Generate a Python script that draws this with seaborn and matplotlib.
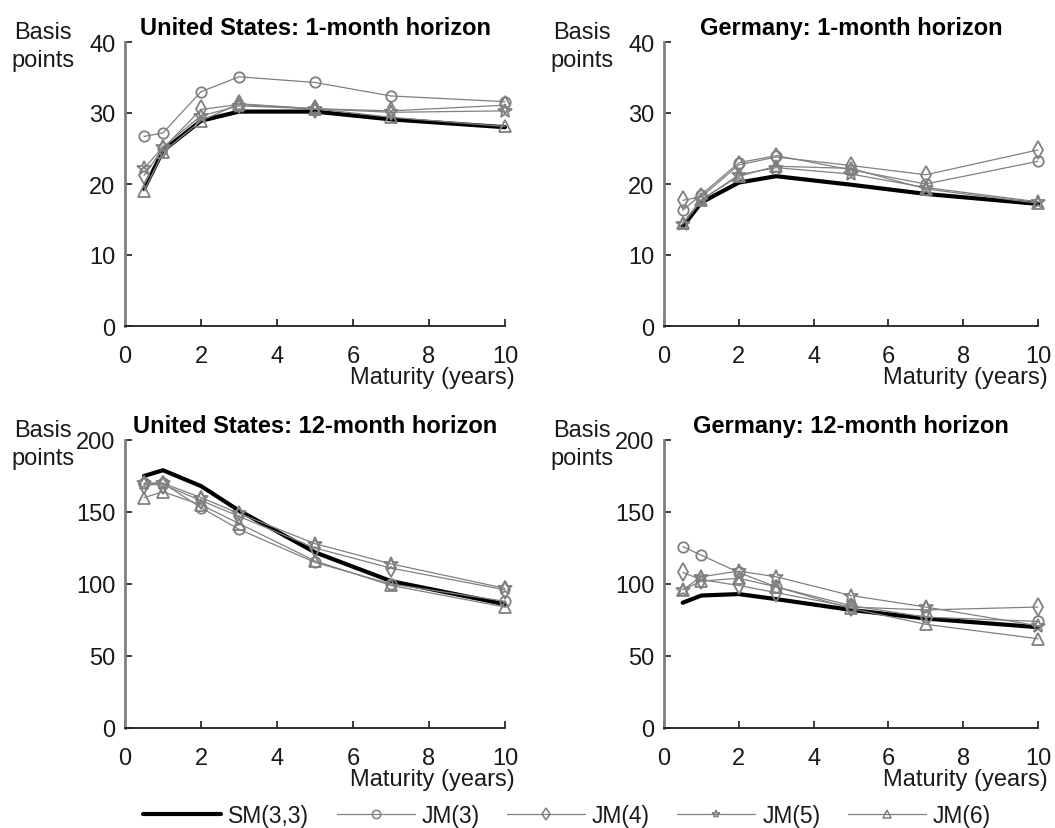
import matplotlib
matplotlib.use("Agg")
import matplotlib.pyplot as plt
import seaborn as sns
import pandas as pd

maturities = [0.5, 1, 2, 3, 5, 7, 10]
models = ["SM(3,3)", "JM(3)", "JM(4)", "JM(5)", "JM(6)"]

us_1m = {
    "SM(3,3)": [19.3, 24.7, 28.9, 30.2, 30.2, 29.1, 28.0],
    "JM(3)":   [26.7, 27.2, 33.0, 35.1, 34.3, 32.4, 31.6],
    "JM(4)":   [21.2, 25.0, 30.5, 31.2, 30.6, 30.3, 31.1],
    "JM(5)":   [22.2, 25.2, 29.6, 31.0, 30.6, 30.1, 30.3],
    "JM(6)":   [19.0, 24.5, 28.9, 31.3, 30.6, 29.4, 28.1],
}
de_1m = {
    "SM(3,3)": [14.0, 17.4, 20.2, 21.1, 19.9, 18.6, 17.2],
    "JM(3)":   [16.3, 18.5, 23.0, 24.0, 22.0, 20.0, 23.2],
    "JM(4)":   [17.7, 18.2, 22.7, 23.8, 22.6, 21.3, 24.8],
    "JM(5)":   [14.3, 17.7, 21.3, 22.3, 21.4, 19.5, 17.5],
    "JM(6)":   [14.5, 17.8, 21.1, 22.5, 22.2, 19.3, 17.3],
}
us_12m = {
    "SM(3,3)": [175, 179, 168, 151, 122, 102, 86],
    "JM(3)":   [170, 170, 153, 138, 115, 100, 88],
    "JM(4)":   [169, 169, 158, 147, 125, 111, 96],
    "JM(5)":   [170, 170, 160, 149, 128, 114, 97],
    "JM(6)":   [160, 164, 155, 142, 116, 99, 84],
}
de_12m = {
    "SM(3,3)": [87, 92, 93, 89.5, 82, 76, 70],
    "JM(3)":   [126, 120, 108, 98, 85, 77, 74],
    "JM(4)":   [108, 103, 99, 94, 84, 82, 84],
    "JM(5)":   [96, 105, 109, 105, 92, 84, 71],
    "JM(6)":   [96, 102, 104, 98, 83, 72, 62],
}

titles = ["United States: 1-month horizon", "Germany: 1-month horizon",
          "United States: 12-month horizon", "Germany: 12-month horizon"]
panels = [us_1m, de_1m, us_12m, de_12m]
ymaxes = [40, 40, 200, 200]
ysteps = [10, 10, 50, 50]

sns.set_theme(style="white")
plt.rcParams["font.family"] = ["Liberation Sans", "DejaVu Sans"]

fig = plt.figure(figsize=(10.55, 8.29), dpi=100)
W, H = 1055, 829
boxes = [(125, 43, 380, 284), (664, 43, 374, 284),
         (125, 441, 380, 288), (664, 441, 374, 288)]

gray = "#808080"
txt = "#1a1a1a"
styles = {
    "SM(3,3)": dict(color="black", lw=3.0, marker=None),
    "JM(3)": dict(color=gray, lw=0.9, marker="o", ms=7.5),
    "JM(4)": dict(color=gray, lw=0.9, marker="d", ms=9),
    "JM(5)": dict(color=gray, lw=0.9, marker="*", ms=10),
    "JM(6)": dict(color=gray, lw=0.9, marker="^", ms=8.5),
}

handles = []
for i, (data, title, ymax, ystep, box) in enumerate(zip(panels, titles, ymaxes, ysteps, boxes)):
    x0, y0, w, h = box
    ax = fig.add_axes([x0 / W, 1 - (y0 + h) / H, w / W, h / H])
    for m in models:
        st = styles[m]
        df = pd.DataFrame({"Maturity": maturities, "bp": data[m]})
        kw = dict(color=st["color"], lw=st["lw"], label=m, ax=ax, sort=False,
                  zorder=2 if m == "SM(3,3)" else 3, clip_on=False)
        if st["marker"] is not None:
            kw.update(marker=st["marker"], markersize=st["ms"],
                      markerfacecolor="none", markeredgecolor=gray, markeredgewidth=1.3)
        sns.lineplot(data=df, x="Maturity", y="bp", **kw)
    ax.set_xlim(0, 10)
    ax.set_ylim(0, ymax)
    ax.set_xticks(range(0, 11, 2))
    ax.set_yticks(range(0, ymax + 1, ystep))
    ax.set_xlabel("")
    ax.set_ylabel("")
    for s in ["top", "right"]:
        ax.spines[s].set_visible(False)
    ax.spines["left"].set_color(gray)
    ax.spines["left"].set_linewidth(2.0)
    ax.spines["bottom"].set_color("#202020")
    ax.spines["bottom"].set_linewidth(1.3)
    ax.tick_params(axis="both", direction="in", length=5, width=1.2,
                   labelsize=17, colors=txt, left=True, bottom=True)
    ax.tick_params(axis="x", pad=14)
    ax.tick_params(axis="y", pad=7)
    ax.set_title(title, fontsize=17, fontweight="bold", pad=6, color="black")
    # x label, right aligned slightly past the axis end
    fig.text((x0 + w + 10) / W, 1 - (y0 + h + 40) / H, "Maturity (years)",
             ha="right", va="top", fontsize=17, color=txt)
    # "Basis points" label at the upper left
    fig.text((x0 - 82) / W, 1 - (y0 + 4) / H, "Basis\npoints",
             ha="center", va="center", fontsize=17, color=txt, linespacing=1.38)
    if ax.get_legend() is not None:
        ax.get_legend().remove()
    if i == 0:
        handles = ax.get_lines()[:5]

leg = fig.legend(handles, models, loc="center", bbox_to_anchor=(567 / W, 1 - 817 / H),
                 ncol=5, frameon=False, fontsize=16.5, handlelength=3.4,
                 columnspacing=1.2, handletextpad=0.3, borderpad=0.0)
for lh in leg.get_lines():
    lh.set_markersize(6)
    lh.set_markeredgewidth(1.1)
for t in leg.get_texts():
    t.set_color(txt)

fig.savefig("out.png", dpi=100)
